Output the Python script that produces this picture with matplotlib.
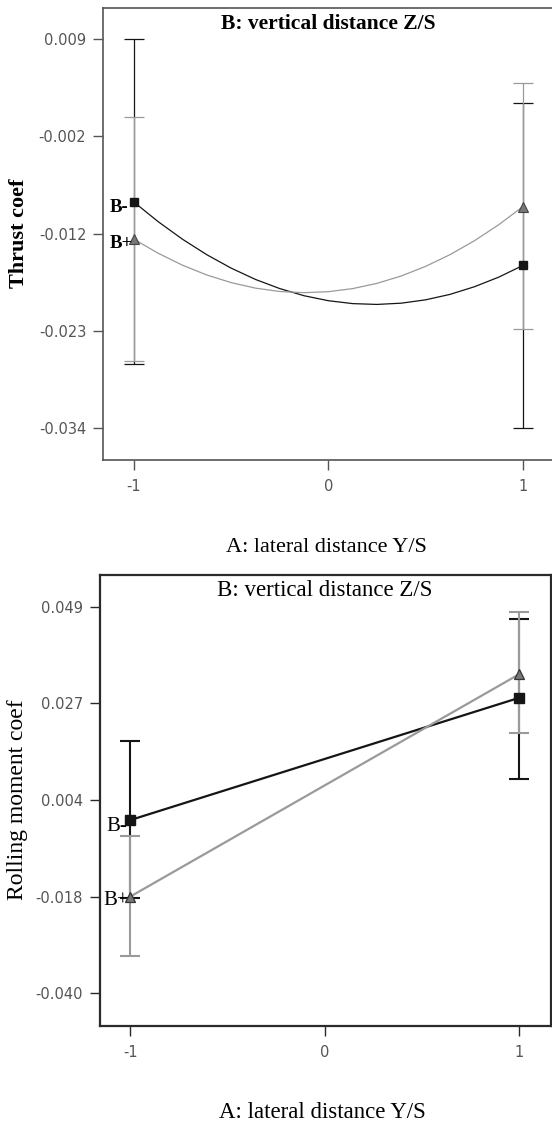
import numpy as np
import matplotlib.pyplot as plt

# factor A levels and the two B series (B- = low, B+ = high)
a_levels = [-1, 1]

# Thrust coef: fitted curves at A = -1 ... 1
a_curve = [-1, -0.875, -0.75, -0.625, -0.5, -0.375, -0.25, -0.125, 0,
           0.125, 0.25, 0.375, 0.5, 0.625, 0.75, 0.875, 1]
thrust_bminus_curve = [-0.0090, -0.01117, -0.01311, -0.01482, -0.0163, -0.01755,
                       -0.01856, -0.01935, -0.0199, -0.02022, -0.02031, -0.02017,
                       -0.0198, -0.0192, -0.01836, -0.0173, -0.0160]
thrust_bplus_curve = [-0.0131, -0.01466, -0.01598, -0.01706, -0.0179, -0.01851,
                      -0.01888, -0.01901, -0.0189, -0.01856, -0.01798, -0.01716,
                      -0.0161, -0.01481, -0.01328, -0.01151, -0.0095]
thrust_bminus = [-0.0090, -0.0160]
thrust_bminus_lo = [-0.0269, -0.0340]
thrust_bminus_hi = [0.0090, 0.0019]
thrust_bplus = [-0.0131, -0.0095]
thrust_bplus_lo = [-0.0266, -0.0230]
thrust_bplus_hi = [0.0004, 0.0042]
thrust_ticks = [0.009, -0.00175, -0.0125, -0.02325, -0.034]
thrust_ticklabels = ["0.009", "-0.002", "-0.012", "-0.023", "-0.034"]

# Rolling moment coef
roll_bminus = [-0.0001, 0.0280]
roll_bminus_lo = [-0.0181, 0.0094]
roll_bminus_hi = [0.0181, 0.0462]
roll_bplus = [-0.0177, 0.0334]
roll_bplus_lo = [-0.0315, 0.0199]
roll_bplus_hi = [-0.0038, 0.0478]
roll_ticks = [0.049, 0.02675, 0.0045, -0.01775, -0.040]
roll_ticklabels = ["0.049", "0.027", "0.004", "-0.018", "-0.040"]

x_ticks = [-1, 0, 1]
x_ticklabels = ["-1", "0", "1"]

serif = "Liberation Serif"
black = "#151515"
grey = "#9a9a9a"

fig = plt.figure(figsize=(5.52, 11.27), dpi=100)
W, H = 552, 1127


def px_axes(l, t, r, b):
    return fig.add_axes([l / W, 1 - b / H, (r - l) / W, (b - t) / H])


def style(ax, spine_col, spine_w):
    for s in ax.spines.values():
        s.set_color(spine_col)
        s.set_linewidth(spine_w)
    ax.tick_params(direction="out", length=7, width=1, colors=spine_col,
                   labelcolor="#555555", labelsize=10.5)
    ax.tick_params(axis="x", pad=7)
    ax.tick_params(axis="y", pad=5)
    ax.set_xticks(x_ticks)
    ax.set_xticklabels(x_ticklabels)


def errs(c, lo, hi):
    c = np.array(c)
    return [c - np.array(lo), np.array(hi) - c]


# ---- top: Thrust coef ----
ax1 = px_axes(103, 7.5, 556, 460)
style(ax1, "#555555", 1.2)
ax1.set_xlim(-1.159, 1.17)
ax1.set_ylim(-0.0375, 0.0125)
ax1.set_yticks(thrust_ticks)
ax1.set_yticklabels(thrust_ticklabels)

ax1.errorbar(a_levels, thrust_bminus, yerr=errs(thrust_bminus, thrust_bminus_lo, thrust_bminus_hi),
             fmt="none", ecolor=black, elinewidth=0.9, capsize=7, capthick=0.9)
ax1.errorbar(a_levels, thrust_bplus, yerr=errs(thrust_bplus, thrust_bplus_lo, thrust_bplus_hi),
             fmt="none", ecolor=grey, elinewidth=0.9, capsize=7, capthick=0.9)
ax1.plot(a_curve, thrust_bminus_curve, color=black, lw=0.9)
ax1.plot(a_curve, thrust_bplus_curve, color=grey, lw=0.9)
ax1.plot(a_levels, thrust_bminus, ls="none", marker="s", ms=6, color=black)
ax1.plot(a_levels, thrust_bplus, ls="none", marker="^", ms=6.5, mfc="#777777", mec="#444444", mew=0.8)

ax1.annotate("B-", (-1, thrust_bminus[0]), xytext=(-4, -4), textcoords="offset points",
             ha="right", va="center", fontfamily=serif, fontweight="bold", fontsize=13.5)
ax1.annotate("B+", (-1, thrust_bplus[0]), xytext=(-1, -3), textcoords="offset points",
             ha="right", va="center", fontfamily=serif, fontweight="bold", fontsize=13.5)
fig.text(0.5 * (103 + 553) / W, 1 - 24 / H, "B: vertical distance Z/S",
         ha="center", va="center", fontfamily=serif, fontweight="bold", fontsize=15.5)
fig.text(326 / W, 1 - 547 / H, "A: lateral distance Y/S", ha="center", va="center",
         fontfamily=serif, fontsize=16)
fig.text(19 / W, 1 - 233 / H, "Thrust coef", ha="center", va="center", rotation=90,
         fontfamily=serif, fontweight="bold", fontsize=16)

# ---- bottom: Rolling moment coef ----
ax2 = px_axes(99.5, 575, 550.5, 1026)
style(ax2, "#2a2a2a", 1.6)
ax2.set_xlim(-1.159, 1.164)
ax2.set_ylim(-0.0475, 0.0563)
ax2.set_yticks(roll_ticks)
ax2.set_yticklabels(roll_ticklabels)

ax2.errorbar(a_levels, roll_bminus, yerr=errs(roll_bminus, roll_bminus_lo, roll_bminus_hi),
             fmt="none", ecolor=black, elinewidth=1.5, capsize=7, capthick=1.5)
ax2.errorbar(a_levels, roll_bplus, yerr=errs(roll_bplus, roll_bplus_lo, roll_bplus_hi),
             fmt="none", ecolor=grey, elinewidth=1.5, capsize=7, capthick=1.5)
ax2.plot(a_levels, roll_bminus, color=black, lw=1.6)
ax2.plot(a_levels, roll_bplus, color=grey, lw=1.6)
ax2.plot(a_levels, roll_bminus, ls="none", marker="s", ms=6.5, color=black)
ax2.plot(a_levels, roll_bplus, ls="none", marker="^", ms=7, mfc="#777777", mec="#333333", mew=0.9)

ax2.annotate("B-", (-1, roll_bminus[0]), xytext=(-2, -5), textcoords="offset points",
             ha="right", va="center", fontfamily=serif, fontsize=15)
ax2.annotate("B+", (-1, roll_bplus[0]), xytext=(-1, -3), textcoords="offset points",
             ha="right", va="center", fontfamily=serif, fontsize=15)
fig.text(325 / W, 1 - 590 / H, "B: vertical distance Z/S", ha="center", va="center",
         fontfamily=serif, fontsize=16.5)
fig.text(322 / W, 1 - 1113 / H, "A: lateral distance Y/S", ha="center", va="center",
         fontfamily=serif, fontsize=16.5)
fig.text(18 / W, 1 - 800 / H, "Rolling moment coef", ha="center", va="center", rotation=90,
         fontfamily=serif, fontsize=17)

fig.savefig("out.png", dpi=100)
